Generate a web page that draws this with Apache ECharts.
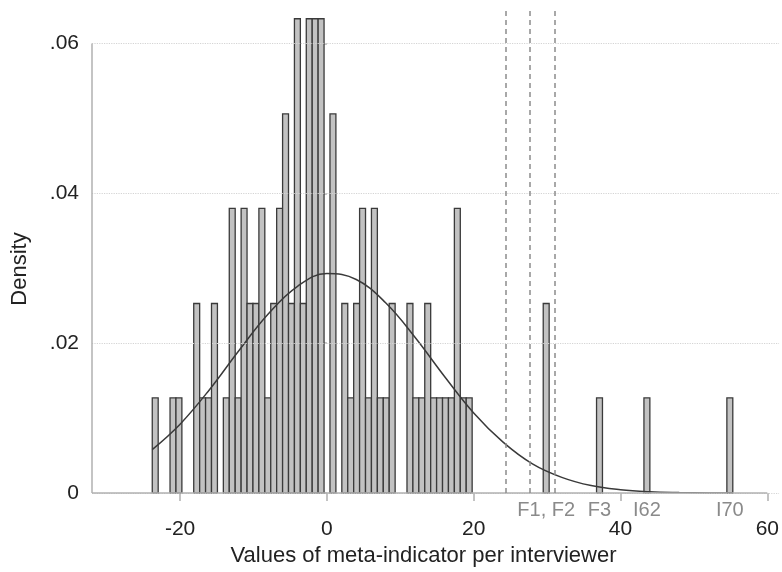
<!DOCTYPE html>
<html>
<head>
<meta charset="utf-8">
<script src="https://cdn.jsdelivr.net/npm/echarts@6/dist/echarts.min.js"></script>
<style>
  html, body { margin: 0; padding: 0; background: #fff; }
  #chart { width: 782px; height: 572px; }
</style>
</head>
<body>
<div id="chart"></div>
<script>
// histogram bins (equal width), density per bin
var binStart = -23.79;
var binWidth = 0.807;
var binDensity = [
  0.0127, 0, 0, 0.0127, 0.0127, 0, 0, 0.0253, 0.0127, 0.0127,
  0.0253, 0, 0.0127, 0.0380, 0.0127, 0.0380, 0.0253, 0.0253, 0.0380, 0.0127,
  0.0253, 0.0380, 0.0506, 0.0253, 0.0633, 0.0253, 0.0633, 0.0633, 0.0633, 0,
  0.0506, 0, 0.0253, 0.0127, 0.0253, 0.0380, 0.0127, 0.0380, 0.0127, 0.0127,
  0.0253, 0, 0, 0.0253, 0.0127, 0.0127, 0.0253, 0.0127, 0.0127, 0.0127,
  0.0127, 0.0380, 0.0127, 0.0127, 0, 0, 0, 0, 0, 0,
  0, 0, 0, 0, 0, 0, 0.0253, 0, 0, 0,
  0, 0, 0, 0, 0, 0.0127, 0, 0, 0, 0,
  0, 0, 0, 0.0127, 0, 0, 0, 0, 0, 0,
  0, 0, 0, 0, 0, 0, 0, 0.0127
];

// normal density overlay
var curveX = [-23.8, -20, -16, -12, -8, -4, 0, 4, 8, 12, 16, 20, 24, 28, 32, 36, 40, 44, 48, 52, 55.3];
var curveY = [0.0058, 0.0092, 0.0138, 0.0190, 0.0239, 0.0276, 0.0293, 0.0285, 0.0254, 0.0208, 0.0156, 0.0107,
              0.0068, 0.0039, 0.0021, 0.0010, 0.00045, 0.00018, 0.00007, 0.00002, 0.00001];

// vertical dashed reference lines
var refLines = [24.34, 27.69, 31.09];

// labels for the outlying interviewers
var outlierNames = ['F1, F2', 'F3', 'I62', 'I70'];
var outlierValues = [29.88, 37.14, 43.59, 54.89];

var xTicks = [-20, 0, 20, 40, 60];
var yTicks = [0, 0.02, 0.04, 0.06];

// plot region runs a little past the last tick on the right
var xMin = -32, xMax = 61.6, yMax = 0.0646;

var bars = [];
binDensity.forEach(function (d, i) {
  if (d > 0) bars.push([binStart + i * binWidth, binStart + (i + 1) * binWidth, d]);
});
var curve = curveX.map(function (x, i) { return [x, curveY[i]]; });

var font = 'Liberation Sans, Arial, sans-serif';
var axisGray = '#b0b0b0';

var option = {
  backgroundColor: '#fff',
  animation: false,
  grid: { left: 92, right: 2, top: 9, bottom: 73 },
  xAxis: [{
    type: 'value',
    min: xMin,
    max: xMax,
    name: 'Values of meta-indicator per interviewer',
    nameLocation: 'middle',
    nameGap: 49,
    nameTextStyle: { fontFamily: font, fontSize: 22, color: '#222', padding: [0, 24, 0, 0] },
    axisLine: { show: false },
    axisTick: { show: true, length: 8, customValues: xTicks, lineStyle: { color: axisGray, width: 1.5 } },
    axisLabel: { customValues: xTicks, margin: 26, fontFamily: font, fontSize: 21, color: '#222' },
    splitLine: { show: false }
  }, {
    type: 'value',
    min: xMin,
    max: xMax,
    position: 'bottom',
    axisLine: { show: false },
    axisTick: { show: false },
    axisLabel: {
      customValues: outlierValues,
      margin: 7,
      fontFamily: font, fontSize: 20, color: '#8a8a8a',
      formatter: function (v) { return outlierNames[outlierValues.indexOf(v)]; }
    },
    splitLine: { show: false }
  }],
  yAxis: {
    type: 'value',
    min: 0,
    max: yMax,
    name: 'Density',
    nameLocation: 'middle',
    nameGap: 61,
    // title is centred on the 0 - .06 span, not on the whole plot height
    nameTextStyle: { fontFamily: font, fontSize: 22, color: '#222', padding: [0, 36, 0, 0] },
    axisLine: { show: false },
    axisTick: { show: true, length: 9, customValues: yTicks, lineStyle: { color: axisGray, width: 1.5 } },
    axisLabel: {
      customValues: yTicks, margin: 13, fontFamily: font, fontSize: 21, color: '#222',
      formatter: function (v) { return v === 0 ? '0' : v.toFixed(2).replace(/^0/, ''); }
    },
    splitLine: { show: false }
  },
  series: [{
    type: 'line',
    data: [],
    silent: true,
    markLine: {
      silent: true,
      symbol: 'none',
      label: { show: false },
      lineStyle: { color: '#d4d4d4', type: 'dotted', width: 1.2 },
      data: yTicks.map(function (v) { return { yAxis: v }; })
    }
  }, {
    // axis lines: y from 0 to .06, x from the left edge to 60
    type: 'line',
    data: [],
    silent: true,
    markLine: {
      silent: true,
      symbol: 'none',
      label: { show: false },
      lineStyle: { color: axisGray, type: 'solid', width: 1.5 },
      data: [
        [{ coord: [xMin, 0] }, { coord: [xMin, yTicks[yTicks.length - 1]] }],
        [{ coord: [xMin, 0] }, { coord: [xTicks[xTicks.length - 1], 0] }]
      ]
    }
  }, {
    type: 'custom',
    z: 3,
    data: bars,
    encode: { x: [0, 1], y: 2 },
    renderItem: function (params, api) {
      var p0 = api.coord([api.value(0), api.value(2)]);
      var p1 = api.coord([api.value(1), 0]);
      return {
        type: 'rect',
        shape: { x: p0[0], y: p0[1], width: p1[0] - p0[0], height: p1[1] - p0[1] },
        style: { fill: '#c2c2c2', stroke: '#3a3a3a', lineWidth: 1.3 }
      };
    }
  }, {
    type: 'line',
    z: 4,
    data: curve,
    smooth: 0.4,
    symbol: 'none',
    lineStyle: { color: '#3a3a3a', width: 1.5 }
  }, {
    type: 'line',
    z: 5,
    data: [],
    silent: true,
    markLine: {
      silent: true,
      symbol: 'none',
      label: { show: false },
      lineStyle: { color: '#8c8c8c', type: [5, 4], width: 1.5 },
      data: refLines.map(function (v) { return { xAxis: v }; })
    }
  }]
};

var chart = echarts.init(document.getElementById('chart'));
chart.setOption(option);
</script>
</body>
</html>
